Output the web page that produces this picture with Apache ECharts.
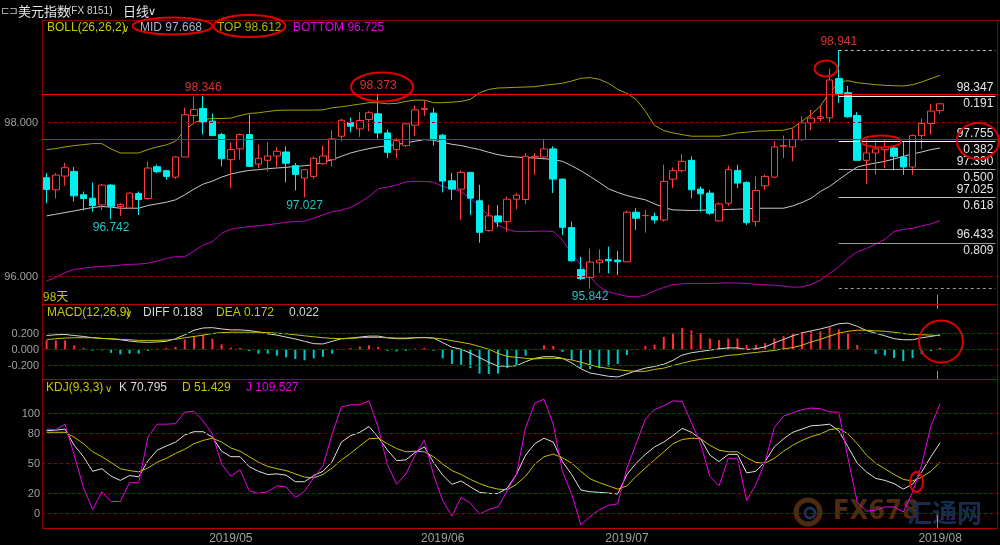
<!DOCTYPE html>
<html><head><meta charset="utf-8">
<script src="https://cdn.jsdelivr.net/npm/echarts@6/dist/echarts.min.js"></script>
<style>html,body{margin:0;padding:0;background:#000;}#c{width:1000px;height:545px;}</style>
</head><body><div id="c"></div>
<script>
// ---------- DATA ----------
const monthTicks = {20:'2019/05', 43:'2019/06', 63:'2019/07', 97:'2019/08'};
const slotCount = 104; // 98 trading days + empty right margin slots
const opens = [97.283,97.126,97.304,97.365,97.061,97.017,96.930,97.187,96.909,96.891,
97.078,97.013,97.426,97.374,97.291,97.552,98.091,98.183,98.017,97.843,
97.517,97.657,97.843,97.461,97.509,97.565,97.617,97.439,97.278,97.300,
97.465,97.517,97.822,98.000,97.917,98.039,98.113,97.865,97.648,97.700,
97.965,98.170,98.122,97.835,97.243,97.135,97.352,96.983,96.596,96.787,
96.713,97.004,97.000,97.552,97.552,97.657,97.265,96.635,96.091,95.987,
96.178,96.222,96.213,96.191,96.835,96.791,96.778,96.735,97.265,97.374,
97.509,97.135,97.083,96.722,96.952,97.378,97.222,96.713,97.178,97.291,
97.691,97.683,97.778,97.996,98.052,98.061,98.570,98.387,98.091,97.509,
97.604,97.648,97.670,97.552,97.422,97.830,97.987,98.157];
const closes = [97.130,97.317,97.413,97.048,97.013,96.922,97.187,96.913,96.935,97.083,
97.000,97.409,97.361,97.300,97.552,98.100,98.170,98.004,97.830,97.530,
97.648,97.843,97.430,97.535,97.565,97.626,97.470,97.326,97.387,97.535,
97.565,97.787,98.030,97.952,98.026,98.126,97.865,97.613,97.765,97.983,
98.165,98.183,97.778,97.239,97.135,97.352,97.017,96.574,96.787,96.709,
97.004,97.057,97.561,97.561,97.657,97.265,96.639,96.204,95.974,96.187,
96.213,96.204,96.191,96.835,96.757,96.791,96.735,97.235,97.374,97.496,
97.126,97.074,96.822,96.943,97.387,97.213,96.700,97.117,97.300,97.683,
97.700,97.778,97.996,98.057,98.074,98.552,98.378,98.074,97.509,97.604,
97.657,97.674,97.561,97.422,97.830,97.987,98.148,98.243];
const lows = [96.952,97.013,97.178,96.974,96.857,96.843,96.865,96.742,96.787,96.887,
96.800,96.996,97.343,97.257,97.265,97.552,97.987,97.843,97.822,97.430,
97.148,97.517,97.430,97.409,97.365,97.417,97.222,97.117,97.027,97.265,
97.452,97.430,97.757,97.874,97.813,97.887,97.791,97.539,97.539,97.683,
97.822,98.083,97.700,97.091,96.996,96.735,96.800,96.439,96.583,96.639,
96.583,96.874,96.943,97.322,97.517,97.083,96.539,96.191,95.952,95.842,
96.048,96.039,96.017,96.191,96.604,96.570,96.691,96.713,97.148,97.352,
97.017,96.843,96.800,96.713,96.917,97.148,96.670,96.648,97.126,97.278,
97.539,97.496,97.757,97.900,98.017,97.996,98.257,98.061,97.509,97.204,
97.322,97.409,97.378,97.322,97.322,97.657,97.843,98.117];
const highs = [97.343,97.343,97.474,97.422,97.104,97.222,97.204,97.196,96.952,97.091,
97.104,97.496,97.452,97.387,97.561,98.191,98.335,98.346,98.117,97.865,
97.743,97.857,98.104,97.713,97.743,97.683,97.691,97.474,97.391,97.561,
97.700,97.900,98.048,98.065,98.135,98.148,98.373,97.909,97.800,97.990,
98.222,98.287,98.191,97.852,97.343,97.378,97.360,97.191,96.930,96.930,
97.039,97.083,97.604,97.604,97.791,97.691,97.270,96.713,96.257,96.365,
96.352,96.387,96.330,96.857,96.887,96.865,96.830,97.452,97.417,97.591,
97.561,97.170,97.126,96.961,97.439,97.452,97.235,97.300,97.322,97.757,
97.830,97.917,98.083,98.161,98.213,98.700,98.941,98.474,98.135,97.778,
97.770,97.778,97.700,97.757,97.843,98.052,98.243,98.243];
const bollUp = [97.648,97.661,97.683,97.700,97.713,97.726,97.726,97.657,97.604,97.604,
97.604,97.648,97.683,97.709,97.757,97.900,97.996,98.039,98.052,98.052,
98.057,98.091,98.117,98.126,98.143,98.157,98.161,98.161,98.161,98.161,
98.165,98.191,98.204,98.222,98.239,98.257,98.257,98.243,98.248,98.274,
98.291,98.291,98.257,98.257,98.265,98.274,98.300,98.387,98.430,98.448,
98.452,98.457,98.461,98.465,98.483,98.496,98.509,98.539,98.574,98.583,
98.561,98.509,98.430,98.378,98.300,98.148,97.961,97.896,97.865,97.843,
97.822,97.822,97.822,97.822,97.839,97.865,97.874,97.887,97.891,97.896,
97.900,97.930,98.017,98.104,98.213,98.387,98.526,98.543,98.517,98.504,
98.491,98.483,98.478,98.474,98.491,98.526,98.570,98.612];
const bollMid = [96.787,96.809,96.830,96.852,96.874,96.896,96.909,96.900,96.887,96.887,
96.887,96.922,96.943,96.965,96.996,97.061,97.135,97.200,97.239,97.291,
97.330,97.357,97.378,97.387,97.400,97.409,97.417,97.430,97.439,97.452,
97.483,97.517,97.561,97.604,97.635,97.661,97.683,97.700,97.713,97.735,
97.757,97.778,97.770,97.743,97.717,97.700,97.674,97.648,97.613,97.583,
97.561,97.552,97.543,97.539,97.530,97.517,97.496,97.439,97.374,97.300,
97.222,97.139,97.091,97.052,97.022,96.996,96.943,96.896,96.865,96.861,
96.857,96.861,96.865,96.865,96.870,96.874,96.878,96.887,96.887,96.887,
96.887,96.917,96.961,97.017,97.104,97.170,97.257,97.343,97.422,97.452,
97.474,97.496,97.526,97.561,97.591,97.617,97.648,97.668];
const bollLow = [95.943,95.987,96.052,96.091,96.109,96.122,96.130,96.139,96.148,96.157,
96.161,96.174,96.200,96.235,96.257,96.257,96.330,96.409,96.452,96.561,
96.613,96.635,96.648,96.661,96.670,96.687,96.704,96.713,96.722,96.757,
96.800,96.843,96.861,96.896,96.961,97.039,97.139,97.161,97.187,97.230,
97.235,97.235,97.222,97.170,97.139,97.104,97.017,96.909,96.787,96.670,
96.613,96.583,96.583,96.587,96.591,96.583,96.474,96.300,96.148,95.996,
95.865,95.800,95.770,95.743,95.735,95.757,95.813,95.857,95.896,95.904,
95.909,95.909,95.909,95.913,95.917,95.917,95.909,95.900,95.891,95.887,
95.874,95.861,95.865,95.896,95.952,96.039,96.126,96.235,96.322,96.365,
96.422,96.483,96.583,96.613,96.626,96.657,96.683,96.725];
const macdDiff = [0.175,0.184,0.188,0.175,0.163,0.147,0.139,0.131,0.122,0.106,
0.094,0.090,0.094,0.102,0.135,0.184,0.241,0.269,0.273,0.257,
0.245,0.245,0.237,0.220,0.196,0.180,0.155,0.131,0.102,0.073,
0.069,0.102,0.135,0.143,0.155,0.167,0.167,0.147,0.135,0.135,
0.147,0.151,0.143,0.086,0.029,0.004,-0.045,-0.102,-0.159,-0.208,
-0.208,-0.204,-0.151,-0.110,-0.090,-0.090,-0.110,-0.167,-0.241,-0.294,
-0.314,-0.335,-0.343,-0.306,-0.265,-0.233,-0.212,-0.184,-0.135,-0.069,
-0.041,-0.024,-0.008,0.008,0.020,0.020,0.000,0.008,0.033,0.082,
0.126,0.171,0.208,0.233,0.257,0.286,0.322,0.330,0.290,0.237,
0.204,0.171,0.135,0.122,0.122,0.147,0.163,0.183];
const macdDea = [0.122,0.135,0.143,0.147,0.147,0.147,0.139,0.135,0.127,0.122,
0.114,0.114,0.114,0.118,0.127,0.147,0.163,0.180,0.200,0.212,
0.216,0.216,0.216,0.216,0.212,0.204,0.196,0.184,0.171,0.159,
0.147,0.139,0.135,0.139,0.147,0.151,0.151,0.147,0.143,0.143,
0.147,0.147,0.143,0.131,0.110,0.090,0.069,0.037,0.004,-0.049,
-0.086,-0.098,-0.110,-0.118,-0.110,-0.110,-0.114,-0.131,-0.159,-0.192,
-0.220,-0.237,-0.253,-0.265,-0.273,-0.273,-0.249,-0.233,-0.200,-0.171,
-0.143,-0.122,-0.110,-0.094,-0.073,-0.065,-0.049,-0.037,-0.024,-0.012,
0.008,0.024,0.053,0.094,0.127,0.167,0.204,0.228,0.241,0.241,
0.233,0.228,0.216,0.200,0.188,0.184,0.180,0.172];
const macdHist = [0.114,0.114,0.114,0.053,0.020,-0.016,-0.012,-0.041,-0.061,-0.053,
-0.053,-0.016,0.012,0.020,0.033,0.126,0.163,0.188,0.135,0.065,
0.024,0.020,-0.020,-0.053,-0.053,-0.078,-0.098,-0.118,-0.135,-0.110,
-0.090,-0.053,-0.004,0.020,0.037,0.053,0.033,-0.016,-0.025,-0.016,
0.012,0.020,-0.016,-0.110,-0.180,-0.192,-0.233,-0.302,-0.306,-0.302,
-0.233,-0.200,-0.078,0.005,0.053,0.045,-0.029,-0.131,-0.233,-0.245,
-0.233,-0.216,-0.180,-0.069,0.004,0.045,0.060,0.158,0.209,0.270,
0.238,0.203,0.138,0.117,0.138,0.138,0.057,0.057,0.080,0.138,
0.167,0.194,0.209,0.227,0.227,0.277,0.250,0.194,0.057,0.002,
-0.055,-0.075,-0.105,-0.145,-0.105,-0.057,-0.020,0.022];
const kdjK = [82.8,83.4,84.4,68.2,56.8,42.2,44.8,37.3,33.1,38.0,
36.7,52.6,63.3,67.5,71.4,78.6,81.8,81.8,76.3,62.3,
56.8,56.8,46.8,42.2,39.0,39.6,38.3,31.8,31.8,38.0,
42.2,51.9,71.4,77.9,81.2,87.0,76.3,63.3,52.9,53.6,
61.0,66.6,51.3,38.3,29.2,32.5,26.6,21.1,20.1,20.0,
25.3,39.0,58.4,69.8,75.3,71.4,51.9,39.0,23.4,21.8,
21.1,20.5,19.5,39.0,50.3,59.1,66.6,71.4,77.9,85.1,
81.2,74.7,58.4,51.9,59.1,59.1,40.6,42.2,51.9,66.6,
74.7,81.2,84.4,87.7,88.3,89.3,82.8,66.6,50.3,41.6,
35.1,33.1,29.9,24.4,29.2,41.6,56.8,70.795];
const kdjD = [81.2,81.2,81.2,76.3,69.8,61.7,56.8,51.0,44.8,42.9,
41.6,45.5,51.3,55.2,60.1,64.3,69.8,73.1,75.3,71.4,
65.6,62.3,56.8,51.3,47.1,44.8,42.9,39.6,36.4,35.7,
39.0,45.5,53.6,60.1,67.5,74.7,75.3,69.8,64.9,61.7,
62.3,61.7,56.8,49.4,42.9,39.0,34.1,29.9,26.6,24.4,
23.7,29.2,37.3,49.4,56.8,59.4,55.8,50.3,42.2,34.7,
30.8,27.6,24.4,27.6,37.3,45.5,53.6,61.7,69.8,74.0,
75.3,74.7,68.2,63.3,61.7,61.7,55.8,51.0,50.3,55.2,
62.3,68.2,73.1,76.9,79.5,83.8,85.1,79.5,69.8,58.4,
50.3,44.8,39.0,34.1,32.5,36.4,42.2,51.429];
const kdjJ = [84.4,83.8,89.3,58.4,26.0,3.9,21.8,12.0,12.0,30.8,
30.8,76.3,89.3,89.3,89.9,101.3,102.3,92.5,79.5,49.4,
37.3,43.8,22.7,20.1,21.8,27.6,26.6,16.2,22.1,35.7,
47.7,79.5,106.5,108.8,108.8,112.7,86.0,48.7,29.2,39.6,
58.4,73.1,39.0,13.0,-2.6,16.2,10.4,-0.6,4.2,6.5,
22.7,39.0,86.0,110.4,114.3,89.3,42.2,19.5,-11.4,-3.2,
3.9,8.1,9.7,45.5,69.8,94.2,103.9,107.8,112.7,112.0,
90.9,69.8,37.3,27.6,55.2,55.2,13.0,29.2,51.9,86.0,
97.4,100.6,103.9,105.5,104.9,101.6,101.3,55.2,11.4,2.3,
3.2,6.5,6.5,1.6,21.1,48.7,87.7,109.527];
const mainTicks = [96, 98];
const macdTicks = [-0.2, 0, 0.2];
const kdjTicks = [0, 20, 50, 80, 100];
const refLines = [98.364, 97.779];
const fibLevels = [98.941, 98.347, 97.755, 97.390, 97.025, 96.433, 95.842];
const fibRatios = ['', '0.191', '0.382', '0.500', '0.618', '0.809', ''];
const fibStartIdx = 86, fibEndIdx = 103;
const highMarks = [{i:17, v:98.346}, {i:36, v:98.373}, {i:86, v:98.941}];
const lowMarks = [{i:7, v:96.742}, {i:28, v:97.027}, {i:59, v:95.842}];

// ---------- CHART ----------
const FONT = '"Liberation Sans", Arial, sans-serif';
const CJK = '"Noto Sans CJK SC", sans-serif';
const cats = Array.from({length: slotCount}, (_, i) => String(i));
const last = a => a[a.length - 1];
const gridL = 42, gridW = 960;

function xAx(gi, showLabel) {
  return {type:'category', gridIndex:gi, data:cats, boundaryGap:true,
    axisLine:{show:false}, axisTick:{show:false}, splitLine:{show:false},
    axisLabel:{show:showLabel, interval:(i)=> (i in monthTicks),
      formatter:(v, i)=> monthTicks[i] || '', color:'#a0a0a0', fontSize:12, margin:4, fontFamily:FONT}};
}
function yAx(gi, min, max, ticks, fmt, margin) {
  return {type:'value', gridIndex:gi, min, max,
    splitLine:{show:false}, axisLine:{show:false}, axisTick:{show:false},
    axisLabel:{customValues:ticks, formatter:fmt, color:'#a0a0a0', fontSize:11, margin, fontFamily:FONT}};
}
const gridItems = (ticks) => ticks.map(v => ({yAxis:v, lineStyle:{type:[3,3], color:'#8c0000', width:1}}));
const mk = (data) => ({silent:true, symbol:['none','none'], animation:false, label:{show:false}, data});
const lineS = (xi, data, color, z) => ({type:'line', xAxisIndex:xi, yAxisIndex:xi, data,
  symbol:'none', lineStyle:{color, width:1}, itemStyle:{color}, z: z||2, animation:false, silent:true});

const fibColors = ['#bdbdbd','#f2f2f2','#ffffff','#a8a8a8','#c0c0c0','#9a9a9a','#9a9a9a'];
const fibLab = {show:true, color:'#e6e6e6', fontSize:12, fontFamily:FONT, distance:2};
const fibData = [];
fibLevels.forEach((v, k) => {
  const dashed = (k === 0 || k === fibLevels.length - 1);
  const ls = {color:fibColors[k], width:1, type: dashed ? [3,3] : 'solid'};
  fibData.push([{coord:[fibStartIdx, v], lineStyle:ls,
      label: fibRatios[k] ? Object.assign({}, fibLab, {position:'insideEndTop', formatter: v.toFixed(3)}) : {show:false}},
    {coord:[fibEndIdx, v]}]);
});
const fibRatioData = [];
fibLevels.forEach((v, k) => {
  if (!fibRatios[k]) return;
  fibRatioData.push([{coord:[fibStartIdx, v], lineStyle:{width:0, color:'rgba(0,0,0,0)'},
      label:Object.assign({}, fibLab, {position:'insideEndBottom', formatter: fibRatios[k]})},
    {coord:[fibEndIdx, v]}]);
});

const markPts = highMarks.map(m => ({coord:[m.i, m.v], label:{show:true, position:'top', distance:2,
    formatter: m.v.toFixed(3), color:'#d83434', fontSize:12, fontFamily:FONT}}))
  .concat(lowMarks.map(m => ({coord:[m.i, m.v], label:{show:true, position:'bottom', distance:2,
    formatter: m.v.toFixed(3), color:'#1fc4c4', fontSize:12, fontFamily:FONT}})));

const gtxt = (x, y, text, fill, size, font, weight) => ({type:'text', x, y, silent:true,
  style:{text, fill, font: (weight ? weight + ' ' : '') + size + 'px ' + (font || FONT), verticalAlign:'middle', align:'left'}});
const gline = (x1, y1, x2, y2, stroke, w, z) => ({type:'line', silent:true, z: z||0, shape:{x1, y1, x2, y2}, style:{stroke, lineWidth:w||1}});
const gell = (cx, cy, rx, ry) => ({type:'ellipse', silent:true, z:100, shape:{cx, cy, rx, ry}, style:{fill:'none', stroke:'#e00000', lineWidth:2}});

const staticGraphics = [
    // watermark
    {type:'circle', silent:true, shape:{cx:808, cy:512, r:12}, style:{fill:'none', stroke:'#4a2a10', lineWidth:5}},
    {type:'circle', silent:true, shape:{cx:810, cy:513, r:5}, style:{fill:'none', stroke:'#1c3154', lineWidth:3}},
    gtxt(833, 512, 'FX678', '#4e2c10', 27, '"DejaVu Sans Condensed", "DejaVu Sans", sans-serif', 'bold'),
    gtxt(907, 512, '汇通网', '#182c50', 25, CJK, 'bold'),
    // frames
    gline(42, 20.5, 1000, 20.5, '#8a0000'),
    gline(42.5, 20, 42.5, 529, '#8a0000'),
    gline(42, 304.5, 998, 304.5, '#b00000'),
    gline(42, 379.5, 998, 379.5, '#b00000'),
    gline(42, 528.5, 998, 528.5, '#b00000'),
    gline(997.5, 20, 997.5, 529, '#8a0000'),
    // month marker ticks
    gline(937.5, 295, 937.5, 304, '#909090'),
    gline(937.5, 305, 937.5, 309, '#909090'),
    gline(937.5, 371, 937.5, 379, '#909090'),
    gline(937.5, 515, 937.5, 528, '#909090'),
    // header
    gtxt(1, 11, '⊏⊐', '#c8c8c8', 10, '"DejaVu Sans", sans-serif'),
    gtxt(18, 11, '美元指数', '#e6e6e6', 13, CJK),
    gtxt(68, 11, '(FX 8151)', '#d0d0d0', 10, FONT),
    gtxt(123, 11, '日线', '#e6e6e6', 13, CJK),
    gtxt(148, 12, '∨', '#e6e6e6', 11, '"DejaVu Sans", sans-serif'),
    // BOLL legend
    gtxt(47, 28, 'BOLL(26,26,2)', '#c8c800', 12),
    gtxt(122, 29, '∨', '#c8c800', 10, '"DejaVu Sans", sans-serif'),
    gtxt(140, 28, 'MID ' + last(bollMid).toFixed(3), '#b0b0cc', 12),
    gtxt(217, 28, 'TOP ' + last(bollUp).toFixed(3), '#b4b400', 12),
    gtxt(293, 28, 'BOTTOM ' + last(bollLow).toFixed(3), '#e000e0', 12),
    gtxt(43, 296, '98天', '#c8c800', 12, CJK),
    // MACD legend
    gtxt(47, 313, 'MACD(12,26,9)', '#c8c800', 12),
    gtxt(125, 314, '∨', '#c8c800', 10, '"DejaVu Sans", sans-serif'),
    gtxt(143, 313, 'DIFF ' + last(macdDiff).toFixed(3), '#d4d4d4', 12),
    gtxt(216, 313, 'DEA ' + last(macdDea).toFixed(3), '#c8c800', 12),
    gtxt(289, 313, last(macdHist).toFixed(3), '#d4d4d4', 12),
    // KDJ legend
    gtxt(46, 388, 'KDJ(9,3,3)', '#c8c800', 12),
    gtxt(105, 389, '∨', '#c8c800', 10, '"DejaVu Sans", sans-serif'),
    gtxt(119, 388, 'K ' + last(kdjK).toFixed(3), '#d8d8d8', 12),
    gtxt(182, 388, 'D ' + last(kdjD).toFixed(3), '#c8c800', 12),
    gtxt(246, 388, 'J ' + last(kdjJ).toFixed(3), '#e000e0', 12),
    // annotation ellipses
    gell(172.5, 26, 40, 8.5),
    gell(249.5, 26, 36, 11),
    gell(382, 87, 31, 14.5),
    gell(826, 68.5, 11.5, 8),
    gell(881, 141.5, 20, 6),
    gell(978, 141, 21, 18),
    gell(941, 341.5, 22, 21),
    gell(916.5, 482, 6.5, 10)
];

const chart = echarts.init(document.getElementById('c'), null, {renderer:'canvas'});
chart.setOption({
  backgroundColor:'#000000',
  animation:false,
  grid:[
    {left:gridL, width:gridW, top:20.5, height:284},
    {left:gridL, width:gridW, top:304.5, height:74.5},
    {left:gridL, width:gridW, top:379, height:149.5}
  ],
  xAxis:[xAx(0,false), xAx(1,false), xAx(2,true)],
  yAxis:[
    yAx(0, 95.6364, 99.3247, mainTicks, v => v.toFixed(3), 4),
    yAx(1, -0.36875, 0.5625, macdTicks, v => v.toFixed(3), 3),
    yAx(2, -15, 134.5, kdjTicks, v => String(v), 2)
  ],
  series:[
    lineS(0, bollUp, '#a3a300'),
    Object.assign(lineS(0, bollMid, '#c8c8c8'), {markLine: mk(gridItems(mainTicks))}),
    Object.assign(lineS(0, bollLow, '#c000c0'), {markLine: mk(fibRatioData)}),
    {type:'candlestick', xAxisIndex:0, yAxisIndex:0, barWidth:7, z:3, silent:true,
      data: opens.map((o, i) => [o, closes[i], lows[i], highs[i]]),
      itemStyle:{color:'#000000', color0:'#00f0f0', borderColor:'#ff3c3c', borderColor0:'#00f0f0', borderWidth:1},
      markLine:{silent:true, symbol:['none','none'], animation:false, data: fibData},
      markPoint:{silent:true, symbol:'circle', symbolSize:0, animation:false, data: markPts}},
    {type:'bar', xAxisIndex:1, yAxisIndex:1, barWidth:2, data: macdHist, silent:true, animation:false,
      itemStyle:{color: p => p.value >= 0 ? '#ff3030' : '#00c8c8'}},
    Object.assign(lineS(1, macdDiff, '#d8d8d8', 3), {markLine: mk(gridItems(macdTicks))}),
    lineS(1, macdDea, '#c4c400', 3),
    Object.assign(lineS(2, kdjK, '#e0e0e0', 3), {markLine: mk(gridItems(kdjTicks))}),
    lineS(2, kdjD, '#c4c400', 3),
    lineS(2, kdjJ, '#ee00ee', 3)
  ],
  graphic: staticGraphics
});
// red reference levels, positioned through the y axis scale
const refGraphics = refLines.map(v => {
  const y = Math.floor(chart.convertToPixel({yAxisIndex:0}, v)) + 0.5;
  return gline(42, y, 997, y, '#ff0000', 1, 50);
});
chart.setOption({graphic: staticGraphics.concat(refGraphics)});
</script></body></html>
